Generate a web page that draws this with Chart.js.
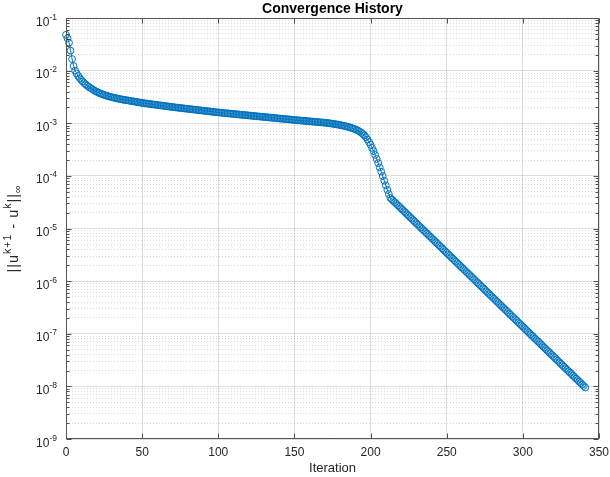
<!DOCTYPE html>
<html>
<head>
<meta charset="utf-8">
<title>Convergence History</title>
<script src="https://cdn.jsdelivr.net/npm/chart.js@4.4.1/dist/chart.umd.min.js"></script>
<style>
  html, body { margin: 0; padding: 0; background: #fff; }
  canvas { display: block; }
</style>
</head>
<body>
<canvas id="place__graph" width="610" height="477"></canvas>
<script>
// residual ||u^{k+1} - u^k||_inf, one value per iteration (0..341)
const residual = [
  4.8e-2, 4.1e-2, 3.4e-2, 2.4e-2, 1.66e-2, 1.22e-2, 1.0e-2, 8.8e-3, 7.9e-3, 7.2e-3,
  6.65e-3, 6.2e-3, 5.8e-3, 5.45e-3, 5.15e-3, 4.9e-3, 4.7e-3, 4.5e-3, 4.3e-3, 4.12e-3,
  3.98e-3, 3.85e-3, 3.74e-3, 3.64e-3, 3.55e-3, 3.46e-3, 3.38e-3, 3.31e-3, 3.25e-3, 3.19e-3,
  3.13e-3, 3.08e-3, 3.03e-3, 2.98e-3, 2.94e-3, 2.9e-3, 2.86e-3, 2.82e-3, 2.79e-3, 2.76e-3,
  2.73e-3, 2.70e-3, 2.67e-3, 2.64e-3, 2.61e-3, 2.58e-3, 2.55e-3, 2.52e-3, 2.49e-3, 2.46e-3,
  2.43e-3, 2.408e-3, 2.387e-3, 2.366e-3, 2.345e-3, 2.324e-3, 2.303e-3, 2.283e-3, 2.262e-3, 2.242e-3,
  2.222e-3, 2.203e-3, 2.183e-3, 2.164e-3, 2.145e-3, 2.126e-3, 2.107e-3, 2.088e-3, 2.070e-3, 2.051e-3,
  2.033e-3, 2.015e-3, 1.997e-3, 1.981e-3, 1.966e-3, 1.950e-3, 1.935e-3, 1.920e-3, 1.905e-3, 1.890e-3,
  1.875e-3, 1.861e-3, 1.846e-3, 1.832e-3, 1.818e-3, 1.803e-3, 1.789e-3, 1.775e-3, 1.762e-3, 1.748e-3,
  1.734e-3, 1.721e-3, 1.707e-3, 1.694e-3, 1.681e-3, 1.668e-3, 1.655e-3, 1.642e-3, 1.629e-3, 1.617e-3,
  1.604e-3, 1.593e-3, 1.583e-3, 1.572e-3, 1.562e-3, 1.552e-3, 1.542e-3, 1.532e-3, 1.522e-3, 1.512e-3,
  1.502e-3, 1.492e-3, 1.482e-3, 1.473e-3, 1.463e-3, 1.453e-3, 1.444e-3, 1.434e-3, 1.425e-3, 1.415e-3,
  1.406e-3, 1.397e-3, 1.388e-3, 1.379e-3, 1.370e-3, 1.361e-3, 1.352e-3, 1.343e-3, 1.334e-3, 1.325e-3,
  1.317e-3, 1.308e-3, 1.300e-3, 1.291e-3, 1.283e-3, 1.274e-3, 1.266e-3, 1.258e-3, 1.249e-3, 1.241e-3,
  1.233e-3, 1.225e-3, 1.217e-3, 1.209e-3, 1.201e-3, 1.193e-3, 1.185e-3, 1.178e-3, 1.170e-3, 1.162e-3,
  1.155e-3, 1.148e-3, 1.141e-3, 1.134e-3, 1.127e-3, 1.120e-3, 1.114e-3, 1.107e-3, 1.100e-3, 1.094e-3,
  1.087e-3, 1.081e-3, 1.074e-3, 1.068e-3, 1.061e-3, 1.055e-3, 1.049e-3, 1.042e-3, 1.036e-3, 1.030e-3,
  1.024e-3, 1.016e-3, 1.008e-3, 9.99e-4, 9.90e-4, 9.80e-4, 9.70e-4, 9.60e-4, 9.49e-4, 9.38e-4,
  9.26e-4, 9.13e-4, 9.00e-4, 8.86e-4, 8.71e-4, 8.56e-4, 8.40e-4, 8.23e-4, 8.05e-4, 7.86e-4,
  7.65e-4, 7.42e-4, 7.17e-4, 6.89e-4, 6.58e-4, 6.23e-4, 5.84e-4, 5.4e-4, 4.9e-4, 4.4e-4,
  3.9e-4, 3.4e-4, 2.95e-4, 2.5e-4, 2.1e-4, 1.75e-4, 1.45e-4, 1.2e-4, 9.9e-5, 8.1e-5,
  6.6e-5, 5.4e-5, 4.5e-5, 3.8e-5, 3.562e-5, 3.339e-5, 3.129e-5, 2.933e-5, 2.749e-5, 2.577e-5,
  2.415e-5, 2.264e-5, 2.122e-5, 1.989e-5, 1.864e-5, 1.747e-5, 1.638e-5, 1.535e-5, 1.439e-5, 1.349e-5,
  1.264e-5, 1.185e-5, 1.111e-5, 1.041e-5, 9.76e-6, 9.15e-6, 8.57e-6, 8.04e-6, 7.53e-6, 7.06e-6,
  6.62e-6, 6.20e-6, 5.81e-6, 5.45e-6, 5.11e-6, 4.79e-6, 4.49e-6, 4.20e-6, 3.94e-6, 3.69e-6,
  3.46e-6, 3.24e-6, 3.04e-6, 2.85e-6, 2.67e-6, 2.50e-6, 2.35e-6, 2.20e-6, 2.06e-6, 1.93e-6,
  1.81e-6, 1.70e-6, 1.59e-6, 1.49e-6, 1.40e-6, 1.31e-6, 1.23e-6, 1.15e-6, 1.08e-6, 1.01e-6,
  9.47e-7, 8.88e-7, 8.32e-7, 7.80e-7, 7.31e-7, 6.85e-7, 6.42e-7, 6.02e-7, 5.64e-7, 5.29e-7,
  4.96e-7, 4.65e-7, 4.36e-7, 4.08e-7, 3.83e-7, 3.59e-7, 3.36e-7, 3.15e-7, 2.95e-7, 2.77e-7,
  2.59e-7, 2.43e-7, 2.28e-7, 2.13e-7, 2.00e-7, 1.88e-7, 1.76e-7, 1.65e-7, 1.54e-7, 1.45e-7,
  1.36e-7, 1.27e-7, 1.19e-7, 1.12e-7, 1.05e-7, 9.82e-8, 9.20e-8, 8.63e-8, 8.08e-8, 7.58e-8,
  7.10e-8, 6.66e-8, 6.24e-8, 5.85e-8, 5.48e-8, 5.14e-8, 4.81e-8, 4.51e-8, 4.23e-8, 3.96e-8,
  3.71e-8, 3.48e-8, 3.26e-8, 3.06e-8, 2.87e-8, 2.69e-8, 2.52e-8, 2.36e-8, 2.21e-8, 2.07e-8,
  1.94e-8, 1.82e-8, 1.71e-8, 1.60e-8, 1.50e-8, 1.40e-8, 1.32e-8, 1.23e-8, 1.16e-8, 1.08e-8,
  1.015e-8, 9.52e-9
];

const xTickLabels = [0, 50, 100, 150, 200, 250, 300, 350];
const yTickExponents = [-9, -8, -7, -6, -5, -4, -3, -2, -1];
const titleText = 'Convergence History';
const xLabel = 'Iteration';

const FONT = '"Liberation Sans", Arial, Helvetica, sans-serif';
const AXIS_COLOR = '#262626';
const LINE_BLUE = '#0072BD';

function isDecade(v) {
  const l = Math.log10(v);
  return Math.abs(l - Math.round(l)) < 1e-9;
}

// matlab look: box, inward ticks, tick labels with exponents, tex-like y label
const matlabAxes = {
  id: 'matlabAxes',
  afterDraw(chart) {
    const { ctx, chartArea: a, scales: { x, y } } = chart;
    const L = Math.round(a.left) + 0.5, R = Math.round(a.right) - 0.5;
    const T = Math.round(a.top) + 0.5, B = Math.round(a.bottom) - 0.5;
    ctx.save();

    // ticks
    ctx.strokeStyle = AXIS_COLOR;
    ctx.lineWidth = 0.8;
    ctx.beginPath();
    xTickLabels.forEach(v => {
      const px = Math.round(x.getPixelForValue(v)) + 0.5;
      ctx.moveTo(px, B); ctx.lineTo(px, B - 5);
      ctx.moveTo(px, T); ctx.lineTo(px, T + 5);
    });
    y.ticks.forEach(t => {
      const py = Math.round(y.getPixelForValue(t.value)) + 0.5;
      const len = isDecade(t.value) ? 5 : 3;
      ctx.moveTo(L, py); ctx.lineTo(L + len, py);
      ctx.moveTo(R, py); ctx.lineTo(R - len, py);
    });
    ctx.stroke();

    // box
    ctx.lineWidth = 1;
    ctx.strokeStyle = '#555555';
    ctx.strokeRect(L, T, R - L, B - T);

    ctx.fillStyle = AXIS_COLOR;

    // x tick labels
    ctx.font = '12px ' + FONT;
    ctx.textAlign = 'center';
    ctx.textBaseline = 'alphabetic';
    xTickLabels.forEach(v => {
      ctx.fillText(String(v), x.getPixelForValue(v), a.bottom + 17);
    });

    // y tick labels 10^e
    ctx.textAlign = 'right';
    yTickExponents.forEach(e => {
      const py = y.getPixelForValue(Math.pow(10, e));
      const exp = String(e);
      ctx.font = '8.5px ' + FONT;
      const w = ctx.measureText(exp).width;
      ctx.fillText(exp, a.left - 9, py + 1.5);
      ctx.font = '12px ' + FONT;
      ctx.fillText('10', a.left - 9 - w, py + 7.5);
    });

    // x label
    ctx.textAlign = 'center';
    ctx.font = '13px ' + FONT;
    ctx.fillText(xLabel, (a.left + a.right) / 2, a.bottom + 33);

    // title
    ctx.fillStyle = '#000000';
    ctx.font = 'bold 14px ' + FONT;
    ctx.fillText(titleText, (a.left + a.right) / 2, a.top - 5);

    // y label: ||u^{k+1} - u^k||_inf
    const parts = [
      { t: '||u', size: 14.5, dy: 0 },
      { t: 'k+1', size: 10.5, dy: -7 },
      { t: ' - u', size: 14.5, dy: 0 },
      { t: 'k', size: 10.5, dy: -7 },
      { t: '||', size: 14.5, dy: 0 },
      { t: '\u221E', size: 10.5, dy: 3 }
    ];
    ctx.fillStyle = AXIS_COLOR;
    ctx.textAlign = 'left';
    ctx.letterSpacing = '1px';
    let total = 0;
    parts.forEach(p => {
      ctx.font = p.size + 'px ' + FONT;
      p.w = ctx.measureText(p.t).width;
      total += p.w;
    });
    ctx.translate(18, (a.top + a.bottom) / 2);
    ctx.rotate(-Math.PI / 2);
    let cx = -total / 2;
    parts.forEach(p => {
      ctx.font = p.size + 'px ' + FONT;
      ctx.fillText(p.t, cx, p.dy);
      cx += p.w;
    });
    ctx.restore();
  }
};

const ctx = document.getElementById('place__graph').getContext('2d');
const chart = new Chart(ctx, {
  type: 'line',
  data: {
    datasets: [{
      label: 'residual',
      data: residual.map((v, i) => ({ x: i, y: v })),
      borderColor: LINE_BLUE,
      borderWidth: 1,
      pointRadius: 3.4,
      pointBorderWidth: 1,
      pointBorderColor: LINE_BLUE,
      pointBackgroundColor: 'rgba(0,0,0,0)',
      tension: 0,
      clip: false
    }]
  },
  options: {
    responsive: false,
    animation: false,
    events: [],
    layout: { padding: { left: 66, right: 11, top: 18, bottom: 38 } },
    plugins: {
      legend: { display: false },
      title: { display: false },
      tooltip: { enabled: false }
    },
    scales: {
      x: {
        type: 'linear',
        min: 0,
        max: 350,
        afterBuildTicks: axis => { axis.ticks = xTickLabels.map(v => ({ value: v })); },
        ticks: { display: false },
        border: { display: false },
        grid: { color: 'rgba(38,38,38,0.15)', lineWidth: 1, drawTicks: false }
      },
      y: {
        type: 'logarithmic',
        min: Math.pow(10, yTickExponents[0]),
        max: Math.pow(10, yTickExponents[yTickExponents.length - 1]),
        afterBuildTicks: axis => {
          const ticks = [];
          for (let i = 0; i < yTickExponents.length - 1; i++) {
            for (let m = 1; m <= 9; m++) ticks.push({ value: m * Math.pow(10, yTickExponents[i]) });
          }
          ticks.push({ value: Math.pow(10, yTickExponents[yTickExponents.length - 1]) });
          axis.ticks = ticks;
        },
        ticks: { display: false },
        border: {
          display: false,
          dash: c => (c.tick && !isDecade(c.tick.value)) ? [1, 2] : []
        },
        grid: {
          drawTicks: false,
          lineWidth: 1,
          color: c => (c.tick && !isDecade(c.tick.value)) ? 'rgba(38,38,38,0.17)' : 'rgba(38,38,38,0.15)'
        }
      }
    }
  },
  plugins: [matlabAxes]
});
</script>
</body>
</html>
